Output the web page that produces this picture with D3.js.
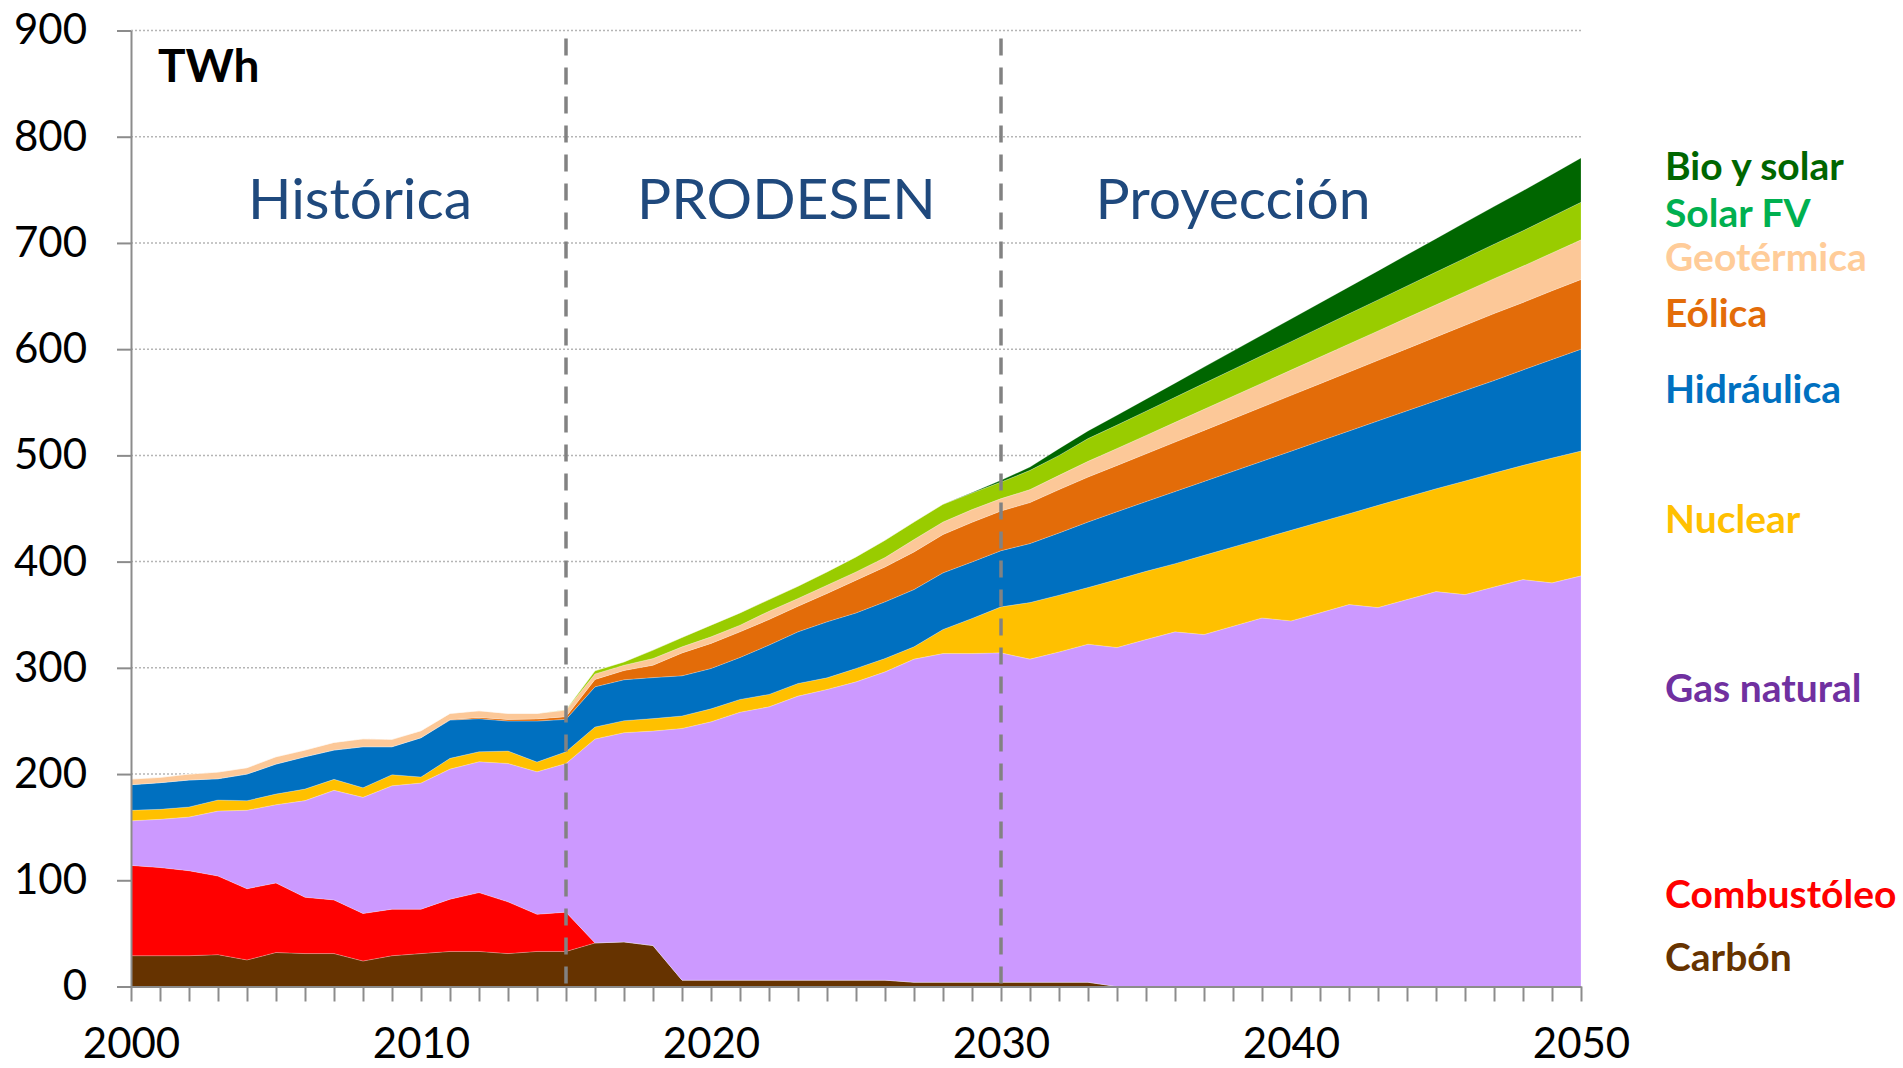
<!DOCTYPE html>
<html>
<head>
<meta charset="utf-8">
<script src="https://cdn.jsdelivr.net/npm/d3@7"></script>
<style>
    body { margin: 0; background: #fff; }
    text { font-family: Lato, "Open Sans", sans-serif; }
</style>
</head>
<body>
<script>
// generation by source, TWh
var years = d3.range(2000, 2051);

var carbon = [29, 29, 29, 30, 25, 32, 31, 31, 24, 29, 31, 33, 33, 31, 33, 33,
    41, 42, 38.5, 6, 6, 6, 6, 6, 6, 6, 6, 4, 4, 4, 4, 4, 4, 4,
    0, 0, 0, 0, 0, 0, 0, 0, 0, 0, 0, 0, 0, 0, 0, 0, 0];
var combustoleo = [85, 83, 80, 74, 67, 65.5, 53, 50.5, 44.7, 43.8, 41.8, 49.2, 55.4, 48.7, 35, 37,
    0, 0, 0, 0, 0, 0, 0, 0, 0, 0, 0, 0, 0, 0, 0, 0, 0, 0,
    0, 0, 0, 0, 0, 0, 0, 0, 0, 0, 0, 0, 0, 0, 0, 0, 0];
var gasNatural = [42, 45.4, 50.6, 61.2, 73.9, 73.7, 91, 103.2, 109.4, 116.2, 118.8, 122.5, 123.2, 130.3, 134.2, 140,
    192, 197, 202, 237, 243.2, 252.3, 257.3, 267.4, 273.7, 280.8, 290.2, 304.2, 309.5, 309.5, 310.1, 304.2, 311, 318.3,
    319.2, 326.7, 333.9, 331.4, 339.2, 347, 344.2, 351.8, 359.6, 356.8, 364.3, 371.8, 369, 376.2, 383.1, 380, 386.6];
var nuclear = [9.9, 9.4, 9.4, 10.4, 9, 10, 10.9, 10.3, 9, 10.4, 5.6, 10.1, 9.4, 11.7, 9.1, 11,
    11.3, 11.3, 11.7, 11.7, 12.2, 12, 11.7, 11.9, 10.9, 12.6, 12.6, 11.6, 22.6, 33, 43.3, 53.3, 53.4, 53.3,
    63.9, 64.2, 64.2, 74.5, 74.6, 74.6, 85.3, 85.5, 85.5, 96.2, 96.5, 96.8, 106.9, 107.2, 107.5, 117.5, 117.5];
var hidraulica = [24.1, 25.1, 25.4, 20, 25.1, 28.2, 30.4, 27.6, 38.6, 26.3, 37, 36, 31.1, 28.2, 38.6, 30.5,
    37.8, 38.5, 38.6, 37.8, 38, 39.5, 46.4, 48.6, 52.7, 52.3, 53.3, 53.9, 53.3, 53.2, 52.9, 55.5, 58.6, 61.7,
    63.9, 65.6, 67.9, 69.6, 71.2, 72.9, 74.5, 76.2, 77.9, 79.5, 81.2, 82.9, 85.1, 87.1, 89.9, 92.8, 95.9];
var eolica = [0, 0, 0, 0, 0, 0, 0, 0, 0, 0, 0, 0.5, 1.2, 1.5, 2, 2.5,
    7, 8.7, 11.7, 21.5, 23.6, 24.1, 24.1, 24.1, 26.7, 30.8, 32.9, 35.4, 36.1, 37.3, 37.4, 38.6, 40.8, 42.3,
    43.5, 45, 46.5, 48, 49.5, 51, 52.5, 54, 55.5, 57, 58.5, 60, 61.5, 63, 63.5, 64.7, 65.6];
var geotermica = [5.3, 5, 5.6, 6.3, 6, 6.9, 6.3, 7.2, 7.5, 7, 6.6, 5.8, 6.3, 5.7, 5.2, 6.2,
    5.2, 5, 6.3, 5.8, 6.2, 6.3, 7.8, 7.3, 7.8, 7.8, 8.8, 11.7, 11.8, 12, 11.6, 12.2, 13.4, 14.8,
    16, 17.3, 18.6, 19.9, 21.2, 22.5, 23.8, 25.1, 26.4, 27.7, 29, 30.3, 31.6, 32.9, 34.2, 35.6, 37.3];
var solarFV = [0, 0, 0, 0, 0, 0, 0, 0, 0, 0, 0, 0, 0, 0, 0, 0.3,
    2.9, 3.1, 7.9, 8.8, 11, 11.5, 11, 11.5, 12.5, 14.1, 16.3, 16.5, 16.7, 15.6, 15.6, 18.1, 18.8, 21.4,
    22, 22.8, 23.6, 24.4, 25.2, 26, 26.8, 27.6, 28.4, 29.2, 30, 30.8, 31.6, 32.4, 33.3, 34.3, 35.4];
var bioSolar = [0, 0, 0, 0, 0, 0, 0, 0, 0, 0, 0, 0, 0, 0, 0, 0,
    0, 0, 0, 0, 0, 0, 0, 0, 0, 0, 0, 0, 0, 0.5, 1.6, 3.1, 6.3, 7.2,
    9.3, 11.3, 13.3, 15.3, 17.3, 19.3, 21.3, 23.3, 25.3, 27.3, 29.4, 31.4, 33.5, 35.5, 37.6, 39.6, 41.7];

// series, bottom to top
var seriesNames = ["Carbón", "Combustóleo", "Gas natural", "Nuclear", "Hidráulica",
    "Eólica", "Geotérmica", "Solar FV", "Bio y solar"];
var seriesValues = [carbon, combustoleo, gasNatural, nuclear, hidraulica,
    eolica, geotermica, solarFV, bioSolar];
var areaColors = ["#663300", "#ff0000", "#cc99ff", "#ffc000", "#0070c0",
    "#e36c09", "#fcc898", "#99cc00", "#006600"];
var labelColors = ["#663300", "#ff0000", "#7030a0", "#ffc000", "#0070c0",
    "#e36c09", "#ffcc99", "#00b050", "#006600"];
var labelY = [971, 908, 702, 533, 403, 327, 271, 227, 180];

var yTicks = [0, 100, 200, 300, 400, 500, 600, 700, 800, 900];
var xLabels = [2000, 2010, 2020, 2030, 2040, 2050];
var periodBreaks = [2015, 2030];
var periodNames = ["Histórica", "PRODESEN", "Proyección"];
var periodAt = [2007.9, 2022.6, 2038];

var width = 1903, height = 1068;

var xScale = d3.scaleLinear().domain([2000, 2050]).range([131, 1581]),
    yScale = d3.scaleLinear().domain([0, 900]).range([986.5, 30.5]);

var svg = d3.select("body").append("svg")
    .attr("width", width)
    .attr("height", height);

// table for the stack
var table = years.map(function (yr, i) {
    var row = { year: yr };
    seriesNames.forEach(function (name, k) { row[name] = seriesValues[k][i]; });
    return row;
});

var stacked = d3.stack().keys(seriesNames)(table);

// dotted gridlines
svg.append("g")
    .selectAll("line")
    .data(yTicks.slice(1))
    .enter().append("line")
    .attr("x1", xScale(2000))
    .attr("x2", xScale(2050))
    .attr("y1", function (d) { return yScale(d); })
    .attr("y2", function (d) { return yScale(d); })
    .attr("stroke", "#b5b5b5")
    .attr("stroke-width", 1.5)
    .attr("stroke-dasharray", "2,2");

// stacked areas
var area = d3.area()
    .x(function (d) { return xScale(d.data.year); })
    .y0(function (d) { return yScale(d[0]); })
    .y1(function (d) { return yScale(d[1]); });

svg.append("g")
    .selectAll("path")
    .data(stacked)
    .enter().append("path")
    .attr("d", area)
    .attr("fill", function (d, i) { return areaColors[i]; })
    .attr("stroke", "rgba(255,255,255,0.35)")
    .attr("stroke-width", 0.6);

// period separators
svg.append("g")
    .selectAll("line")
    .data(periodBreaks)
    .enter().append("line")
    .attr("x1", function (d) { return xScale(d); })
    .attr("x2", function (d) { return xScale(d); })
    .attr("y1", yScale(900) + 8)
    .attr("y2", yScale(0))
    .attr("stroke", "#828282")
    .attr("stroke-width", 3.5)
    .attr("stroke-dasharray", "17,12");

// x axis
var xAxis = svg.append("g")
    .attr("transform", "translate(0," + yScale(0) + ")")
    .call(d3.axisBottom(xScale)
        .tickValues(years)
        .tickSize(15)
        .tickSizeOuter(0)
        .tickPadding(27)
        .tickFormat(function (d) { return xLabels.indexOf(d) >= 0 ? d : ""; }));

// y axis
var yAxis = svg.append("g")
    .attr("transform", "translate(" + xScale(2000) + ",0)")
    .call(d3.axisLeft(yScale)
        .tickValues(yTicks)
        .tickSize(14)
        .tickSizeOuter(0)
        .tickPadding(30));

[xAxis, yAxis].forEach(function (ax) {
    ax.select(".domain").attr("stroke", "#8c8c8c").attr("stroke-width", 2);
    ax.selectAll(".tick line").attr("stroke", "#8c8c8c").attr("stroke-width", 2);
    ax.selectAll("text")
        .attr("fill", "#000")
        .style("font-family", "Lato, 'Open Sans', sans-serif")
        .style("font-size", "42px");
});

// unit
svg.append("text")
    .attr("x", 158)
    .attr("y", 82)
    .style("font-size", "46px")
    .style("font-weight", "bold")
    .attr("fill", "#000")
    .text("TWh");

// period names
svg.append("g")
    .selectAll("text")
    .data(periodNames)
    .enter().append("text")
    .attr("x", function (d, i) { return xScale(periodAt[i]); })
    .attr("y", yScale(723))
    .attr("text-anchor", "middle")
    .style("font-size", "57px")
    .attr("fill", "#1f497d")
    .text(function (d) { return d; });

// labels on the right
svg.append("g")
    .selectAll("text")
    .data(seriesNames)
    .enter().append("text")
    .attr("x", 1665)
    .attr("y", function (d, i) { return labelY[i]; })
    .style("font-size", "39px")
    .style("font-weight", "bold")
    .attr("fill", function (d, i) { return labelColors[i]; })
    .text(function (d) { return d; });
</script>
</body>
</html>
